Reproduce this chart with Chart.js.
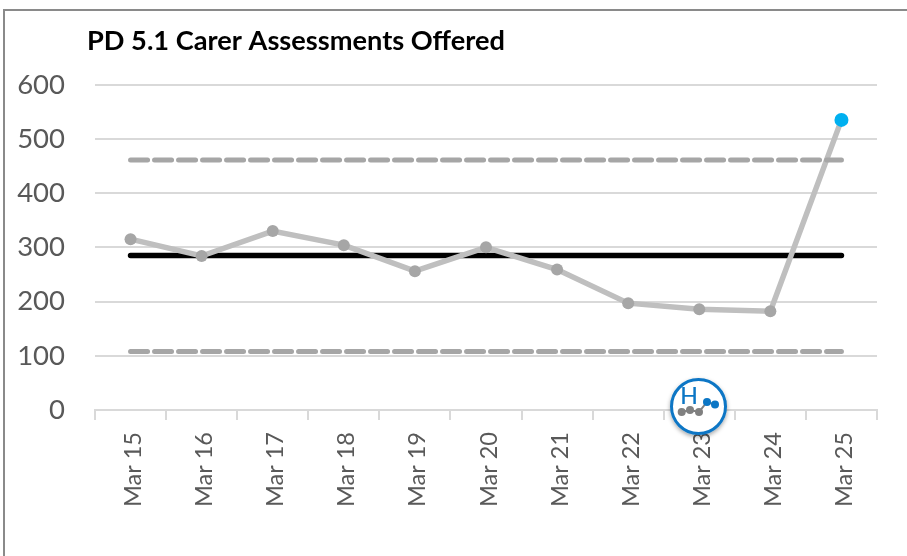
<!DOCTYPE html>
<html lang="en">
<head>
    <meta charset="UTF-8" />
    <title>PD 5.1 Carer Assessments Offered</title>
    <script src="https://cdn.jsdelivr.net/npm/chart.js"></script>
    <style>
        html, body { margin: 0; padding: 0; background: #fff; overflow: hidden; }
        #wrap { position: relative; width: 907px; height: 556px; }
        #frame {
            position: absolute; left: 3px; top: 9px; right: 0; bottom: 0;
            border-left: 2px solid #8a8a8a; border-top: 2px solid #8a8a8a;
        }
        #pdChart { position: relative; display: block; }
        #badge { position: absolute; left: 660px; top: 368px; width: 78px; height: 78px; }
    </style>
</head>
<body>
<div id="wrap">
    <div id="frame"></div>
    <canvas id="pdChart" width="907" height="556"></canvas>
    <!-- "H" badge sitting over the Mar 23 label -->
    <svg id="badge" viewBox="660 368 78 78">
        <defs>
            <filter id="sh" x="-30%" y="-30%" width="160%" height="160%">
                <feDropShadow dx="0" dy="2" stdDeviation="2" flood-color="#000" flood-opacity="0.35" />
            </filter>
        </defs>
        <circle cx="698.5" cy="406.5" r="27" fill="#fff" stroke="#0b76c5" stroke-width="3" filter="url(#sh)" />
        <text x="689" y="404" text-anchor="middle" font-family="Lato" font-size="23" font-weight="500" fill="#0b76c5">H</text>
        <polyline points="681.7,412 690,410 699,412 707,402 715,404.5" fill="none" stroke="#808080" stroke-width="2" />
        <circle cx="681.7" cy="412" r="4" fill="#808080" />
        <circle cx="690" cy="410" r="4" fill="#808080" />
        <circle cx="699" cy="412" r="4" fill="#808080" />
        <circle cx="707" cy="402" r="4" fill="#0b76c5" />
        <circle cx="715" cy="404.5" r="4" fill="#0b76c5" />
    </svg>
</div>

<script>
    // Values
    const categories = ['Mar 15', 'Mar 16', 'Mar 17', 'Mar 18', 'Mar 19', 'Mar 20', 'Mar 21', 'Mar 22', 'Mar 23', 'Mar 24', 'Mar 25'];
    const offered = [315, 284, 330, 304, 256, 300, 259, 197, 186, 182, 535];
    const mean = [285, 285, 285, 285, 285, 285, 285, 285, 285, 285, 285];
    const upperLimit = [461, 461, 461, 461, 461, 461, 461, 461, 461, 461, 461];
    const lowerLimit = [108, 108, 108, 108, 108, 108, 108, 108, 108, 108, 108];
    const yTicks = [0, 100, 200, 300, 400, 500, 600];

    const GREY = '#a6a6a6';
    const pointColours = offered.map((v, i) => i === offered.length - 1 ? '#00b0f0' : GREY);
    const pointSizes = offered.map((v, i) => i === offered.length - 1 ? 7 : 6);

    // title starts left of the plot area, so nudge it after layout
    const titleLeft = {
        id: 'titleLeft',
        afterLayout(chart) { chart.titleBlock.left = 87; }
    };

    new Chart(document.getElementById('pdChart'), {
        type: 'line',
        data: {
            labels: categories,
            datasets: [
                { label: 'Mean', data: mean, borderColor: '#000', borderWidth: 5.5, borderCapStyle: 'round', pointRadius: 0, order: 3 },
                {
                    label: 'Offered', data: offered, borderColor: '#bfbfbf', borderWidth: 5.5,
                    pointRadius: pointSizes, pointBackgroundColor: pointColours, pointBorderWidth: 0, order: 2
                },
                { label: 'Upper limit', data: upperLimit, borderColor: GREY, borderWidth: 5, borderDash: [17, 7], borderCapStyle: 'round', pointRadius: 0, order: 1 },
                { label: 'Lower limit', data: lowerLimit, borderColor: GREY, borderWidth: 5, borderDash: [17, 7], borderCapStyle: 'round', pointRadius: 0, order: 1 }
            ]
        },
        options: {
            responsive: false,
            animation: false,
            layout: { padding: { top: 25, right: 30, bottom: 0, left: 0 } },
            plugins: {
                legend: { display: false },
                tooltip: { enabled: false },
                title: {
                    display: true,
                    text: 'PD 5.1 Carer Assessments Offered',
                    align: 'start',
                    color: '#000',
                    font: { family: 'Lato', size: 27.2, weight: '700' },
                    padding: { top: 0, bottom: 27 }
                }
            },
            scales: {
                x: {
                    offset: true,
                    afterFit(s) { s.height = 146; },
                    grid: { drawOnChartArea: false, color: '#d9d9d9', lineWidth: 2, tickLength: 10, offset: true },
                    border: { color: '#d9d9d9', width: 2 },
                    ticks: {
                        color: '#595959', font: { family: 'Lato', size: 23.5 },
                        minRotation: 90, maxRotation: 90, padding: 12, labelOffset: 3, autoSkip: false
                    }
                },
                y: {
                    min: 0,
                    max: 600,
                    afterFit(s) { s.width = 95; },
                    afterBuildTicks(s) { s.ticks = yTicks.map(v => ({ value: v })); },
                    grid: { color: '#d9d9d9', lineWidth: 2, drawTicks: false },
                    border: { display: false },
                    ticks: { color: '#595959', font: { family: 'Lato', size: 27.5 }, padding: 30 }
                }
            }
        },
        plugins: [titleLeft]
    });
</script>
</body>
</html>
